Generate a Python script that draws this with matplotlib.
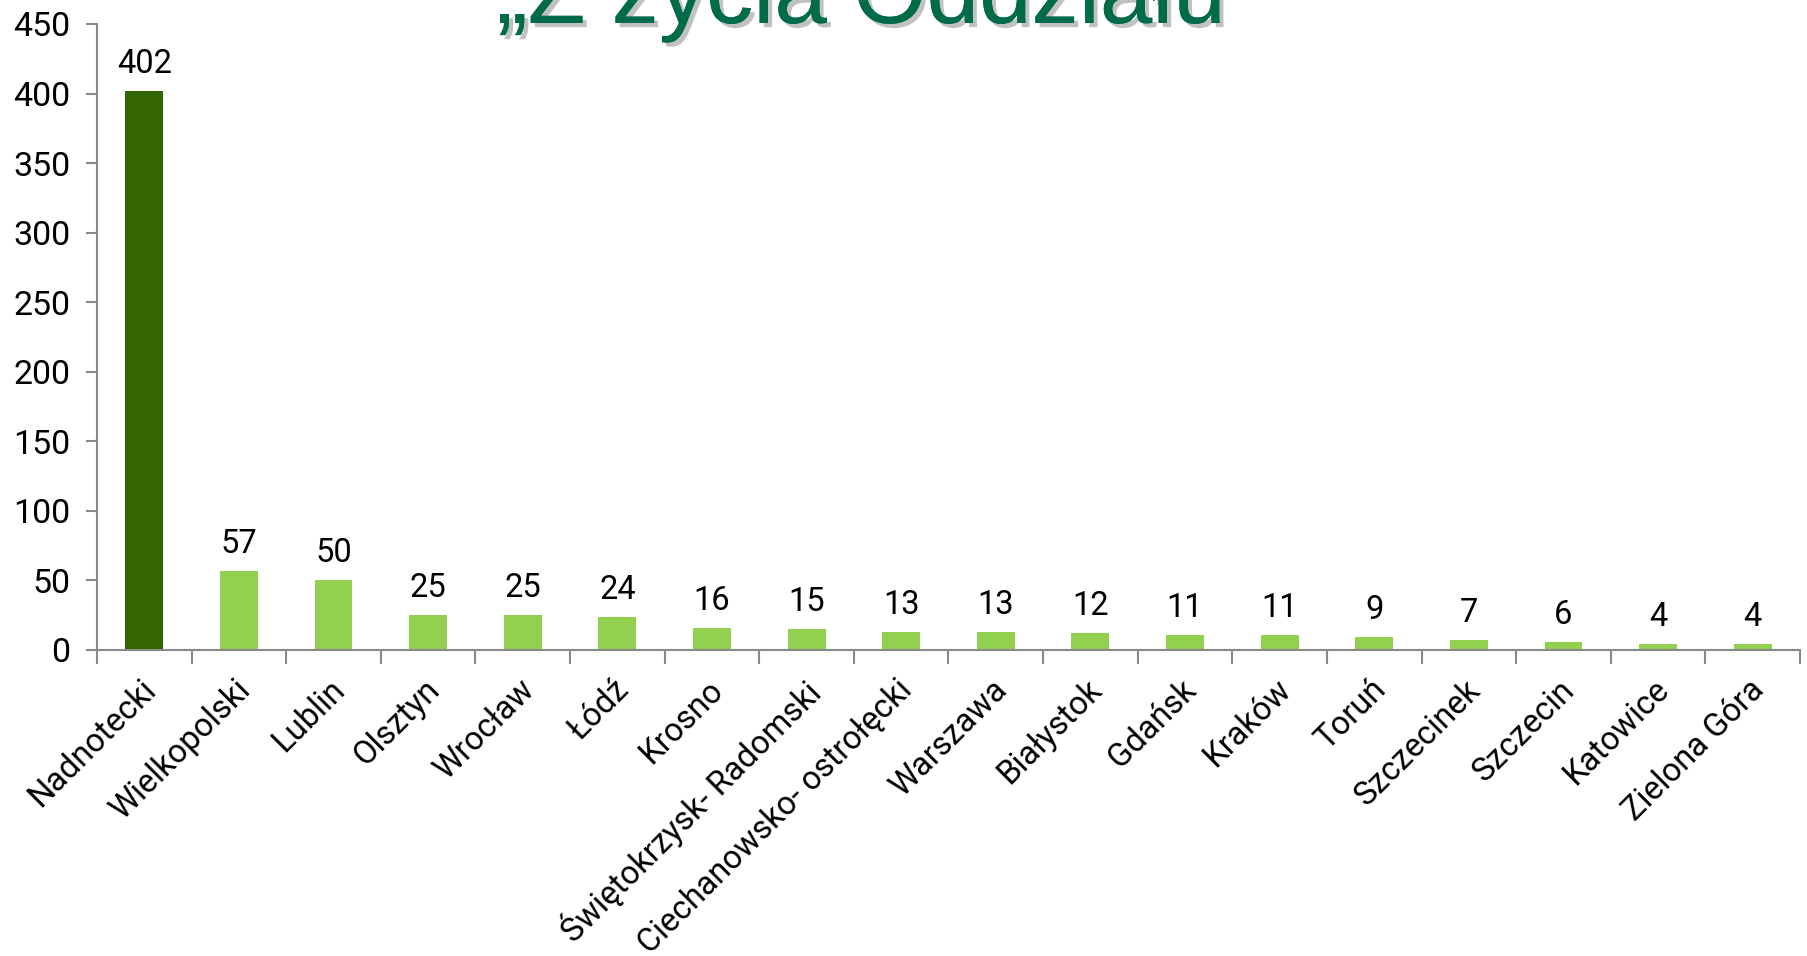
import matplotlib
matplotlib.use("Agg")
import matplotlib.pyplot as plt
import matplotlib.patheffects as pe
import matplotlib.transforms as mtransforms
import numpy as np

categories = ["Nadnotecki", "Wielkopolski", "Lublin", "Olsztyn", "Wrocław", "Łódź",
              "Krosno", "Świętokrzysk- Radomski", "Ciechanowsko- ostrołęcki", "Warszawa",
              "Białystok", "Gdańsk", "Kraków", "Toruń", "Szczecinek", "Szczecin",
              "Katowice", "Zielona Góra"]
values = [402, 57, 50, 25, 25, 24, 16, 15, 13, 13, 12, 11, 11, 9, 7, 6, 4, 4]
title = "„Z życia Oddziału"

plt.rcParams['font.family'] = ['Roboto', 'DejaVu Sans']

fig = plt.figure(figsize=(18.08, 9.56), dpi=100)
ax = fig.add_axes([97/1808, 306/956, (1800-97)/1808, (650-24)/956])

x = np.arange(len(categories))
colors = ['#336600'] + ['#92D050'] * (len(categories) - 1)
ax.bar(x, values, width=0.4, color=colors)
for xi, v in zip(x, values):
    ax.annotate(str(v), (xi, v), xytext=(0, 8), textcoords='offset points',
                ha='center', va='bottom', fontsize=23.5, color='black')

ax.set_xlim(-0.5, len(categories) - 0.5)
ax.set_ylim(0, 450)
ax.set_yticks(np.arange(0, 451, 50))
ax.tick_params(axis='y', labelsize=24.5, length=8, color='#898989', width=1.5, pad=11)

ax.set_xticks(np.arange(-0.5, len(categories), 1.0))
ax.set_xticklabels([])
ax.tick_params(axis='x', which='major', length=10, color='#898989', width=1.5)
ax.set_xticks(x, minor=True)
ax.set_xticklabels(categories, minor=True, rotation=45, ha='right', va='top',
                   rotation_mode='anchor', fontsize=23.5)
ax.tick_params(axis='x', which='minor', length=0, pad=17)
shift = mtransforms.ScaledTranslation(-5/100, 0, fig.dpi_scale_trans)
for lbl in ax.get_xticklabels(minor=True):
    lbl.set_transform(lbl.get_transform() + shift)

for s in ['top', 'right']:
    ax.spines[s].set_visible(False)
for s in ['left', 'bottom']:
    ax.spines[s].set_color('#898989')
    ax.spines[s].set_linewidth(1.5)

fig.text(0.4765, 1 - 23/956, title, ha='center', va='baseline', fontsize=68,
         color='#006B4A', family=['Liberation Sans', 'DejaVu Sans'],
         path_effects=[pe.withSimplePatchShadow(offset=(3, -3), shadow_rgbFace='#777777', alpha=0.45),
                       pe.Normal()])

fig.savefig('out.png', dpi=100)
